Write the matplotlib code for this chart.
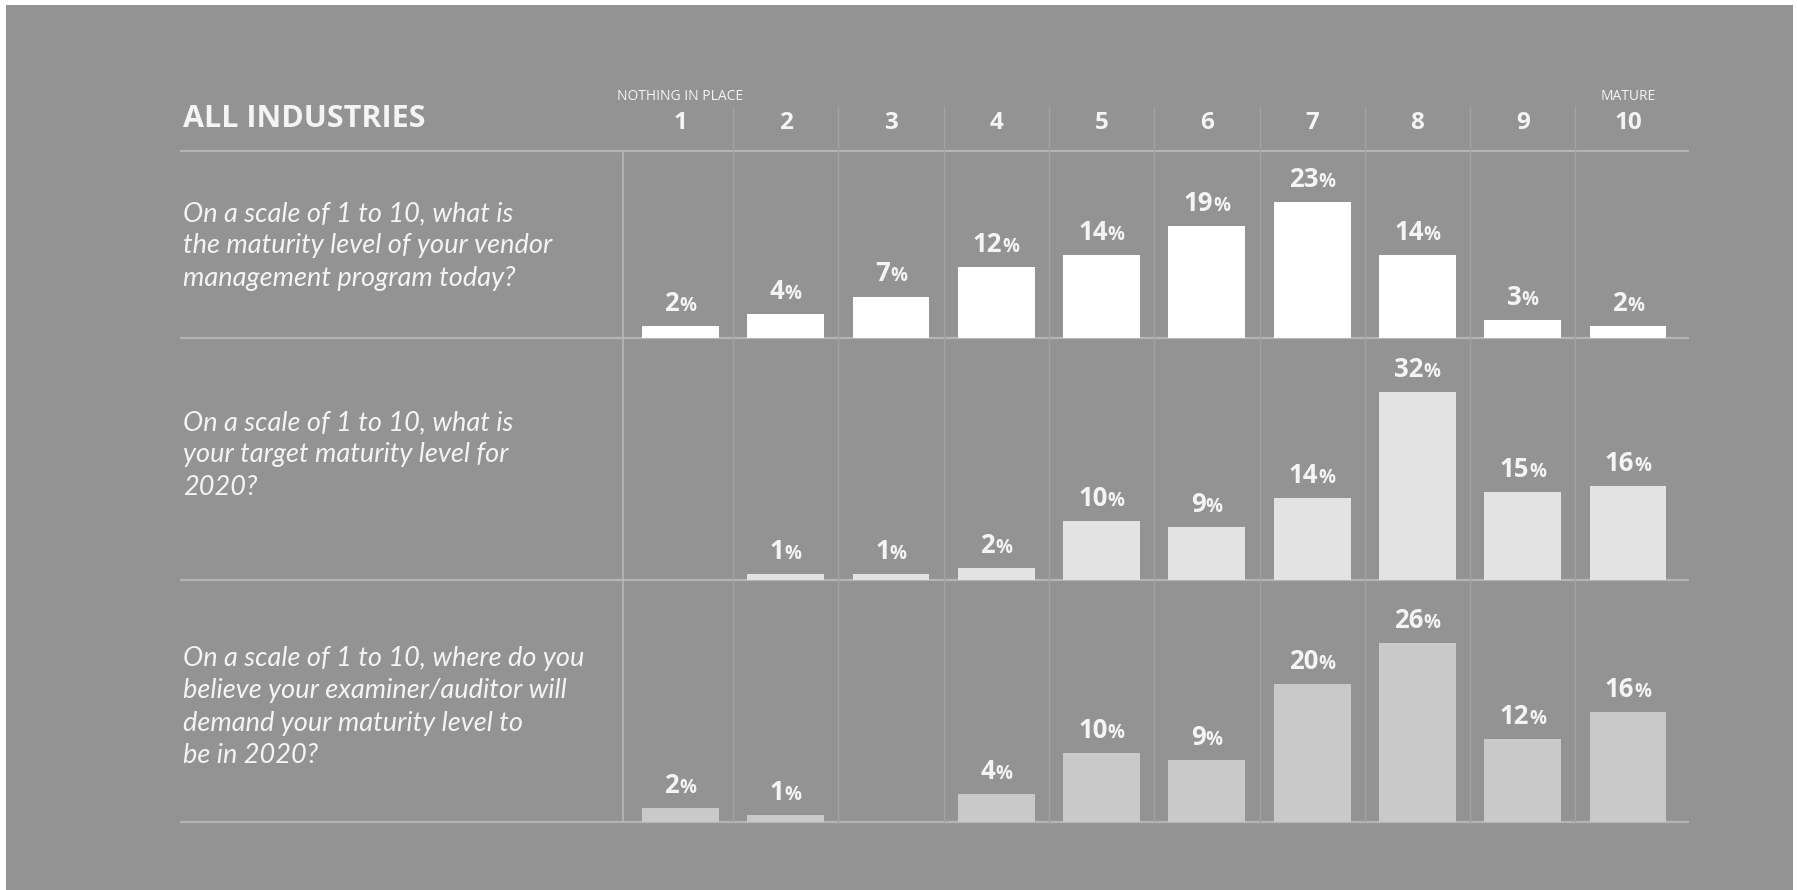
import numpy as np
import matplotlib.pyplot as plt
from matplotlib.patches import Rectangle

# Datos
levels = np.arange(1, 11)
today = [2, 4, 7, 12, 14, 19, 23, 14, 3, 2]
target_2020 = [0, 1, 1, 2, 10, 9, 14, 32, 15, 16]
auditor_2020 = [2, 1, 0, 4, 10, 9, 20, 26, 12, 16]

questions = [
    "On a scale of 1 to 10, what is\nthe maturity level of your vendor\nmanagement program today?",
    "On a scale of 1 to 10, what is\nyour target maturity level for\n2020?",
    "On a scale of 1 to 10, where do you\nbelieve your examiner/auditor will\ndemand your maturity level to\nbe in 2020?",
]
series = [today, target_2020, auditor_2020]
bar_colors = ['#ffffff', '#e3e3e3', '#c9c9c9']

W, H = 1797, 890
BG = '#939393'
TXT = '#f4f4f4'

fig = plt.figure(figsize=(W / 100, H / 100), dpi=100, facecolor='white')

# capa de fondo en pixeles
bg = fig.add_axes([0, 0, 1, 1], zorder=0)
bg.set_xlim(0, W)
bg.set_ylim(H, 0)
bg.axis('off')
bg.add_patch(Rectangle((6, 5), 1787, 890, color=BG, lw=0))

# geometria (pixeles)
col_w = 105.3
x0 = 627.7
row_lines = [151, 338, 580, 822]
scales = [5.9, 5.86, 6.88]  # px por %

# lineas horizontales
for y in row_lines:
    bg.plot([180, 1689], [y, y], color='#b4b4b4', lw=1.6, solid_capstyle='butt')
# linea vertical izquierda
bg.plot([623, 623], [151, 822], color='#b8b8b8', lw=1.2)
# divisiones de columnas
for k in range(1, 10):
    xc = x0 + k * col_w
    bg.plot([xc, xc], [107, 822], color='#a3a3a3', lw=0.9)

# encabezado
bg.text(183, 119, 'ALL INDUSTRIES', fontsize=22, fontweight='bold', family='Open Sans',
        color=TXT, ha='left', va='center')
for lv in levels:
    xc = x0 + (lv - 0.5) * col_w
    bg.text(xc, 123, str(lv), fontsize=17.5, fontweight='bold', family='Open Sans',
            color=TXT, ha='center', va='center')
bg.text(x0 + 0.5 * col_w, 96, 'NOTHING IN PLACE', fontsize=10, family='Open Sans',
        color=TXT, ha='center', va='center')
bg.text(x0 + 9.5 * col_w, 96, 'MATURE', fontsize=10, family='Open Sans',
        color=TXT, ha='center', va='center')

# preguntas
q_top = [201, 410, 646]
for q, yt in zip(questions, q_top):
    bg.text(183, yt, q, fontsize=19.5, style='italic', family='Lato',
            color=TXT, ha='left', va='top', linespacing=1.37)

renderer = fig.canvas.get_renderer()

for i, vals in enumerate(series):
    top, bottom = row_lines[i], row_lines[i + 1]
    ax = fig.add_axes([x0 / W, 1 - bottom / H, 10 * col_w / W, (bottom - top) / H], zorder=1)
    ax.set_xlim(0.5, 10.5)
    ax.set_ylim(0, (bottom - top) / scales[i])
    ax.axis('off')
    ax.patch.set_alpha(0)
    ax.bar(levels, vals, width=0.73, color=bar_colors[i], lw=0)
    for lv, v in zip(levels, vals):
        if v == 0:
            continue
        tn = ax.annotate(str(v), (lv, v), xytext=(0, 11), textcoords='offset points',
                         ha='left', va='baseline', fontsize=18.5, fontweight='bold',
                         family='Open Sans', color=TXT)
        tp = ax.annotate('%', (lv, v), xytext=(0, 11), textcoords='offset points',
                         ha='left', va='baseline', fontsize=13.5, fontweight='bold',
                         family='Open Sans', color=TXT)
        wn = tn.get_window_extent(renderer).width * 0.72
        wp = tp.get_window_extent(renderer).width * 0.72
        tn.xyann = (-(wn + wp) / 2, 11)
        tp.xyann = (-(wn + wp) / 2 + wn, 11)

plt.savefig('out.png', dpi=100, facecolor=fig.get_facecolor())
